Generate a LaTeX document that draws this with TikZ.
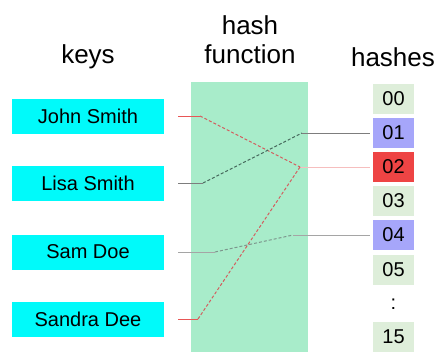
\documentclass[tikz,border=0pt]{standalone}
\usepackage{fontspec}
\setmainfont{Liberation Sans}
\usepackage{xcolor}
\usepackage{tikz}
\usetikzlibrary{arrows.meta,positioning}

\definecolor{keycyan}{RGB}{0,250,250}
\definecolor{bandgreen}{RGB}{168,236,202}
\definecolor{slotgreen}{RGB}{222,238,218}
\definecolor{slotblue}{RGB}{166,166,250}
\definecolor{slotred}{RGB}{238,68,68}
\definecolor{linered}{RGB}{232,86,86}
\definecolor{linepink}{RGB}{246,190,190}
\definecolor{linegray}{RGB}{125,125,125}
\definecolor{lightgray}{RGB}{165,165,165}
\definecolor{darkline}{RGB}{70,105,92}

\begin{document}
\begin{tikzpicture}[
    x=1pt, y=-1pt,
    title/.style={font=\fontsize{26}{29}\selectfont, align=center, inner sep=0pt},
    keybox/.style={rectangle, fill=keycyan, minimum width=152pt, minimum height=35pt, font=\fontsize{20}{24}\selectfont, inner sep=0pt},
    slot/.style={rectangle, fill=slotgreen, minimum width=41pt, minimum height=30pt, font=\fontsize{20}{24}\selectfont, inner sep=0pt},
    solidpart/.style={line width=1pt, shorten <=14pt},
    dashpart/.style={line width=1pt, densely dashed}
]
\useasboundingbox (0,0) rectangle (439,353);

% Hash function band
\fill[bandgreen] (191,82) rectangle (308,352);

% Headers
\node[title] (tkeys) at (88,57) {keys};
\node[title] (thash) at (250,40) {hash\\function};
\node[title] (thashes) at (393,57) {hashes};

% Keys
\node[keybox] (john) at (88,116) {John Smith};
\node[keybox] (lisa) at (88,183) {Lisa Smith};
\node[keybox] (sam) at (88,252) {Sam Doe};
\node[keybox] (sandra) at (88,319) {Sandra Dee};

% Hashes
\node[slot] (h00) at (393.5,99) {00};
\node[slot, fill=slotblue] (h01) at (393.5,133) {01};
\node[slot, fill=slotred] (h02) at (393.5,167) {02};
\node[slot] (h03) at (393.5,201) {03};
\node[slot, fill=slotblue] (h04) at (393.5,235) {04};
\node[slot] (h05) at (393.5,269.5) {05};
\node[font=\fontsize{20}{24}\selectfont] (hdots) at (393.5,304) {:};
\node[slot] (h15) at (393.5,337) {15};

% Bend points inside the band
\coordinate (jbend) at (200,116);
\coordinate (lbend) at (203,183);
\coordinate (sbend) at (215,252);
\coordinate (dbend) at (198,319);
\coordinate (to01) at (302,133);
\coordinate (to02) at (300,167);
\coordinate (to04) at (293,235);

% John Smith -> 02
\draw[solidpart, linered] (john.east) -- (jbend);
\draw[dashpart, linered!80!gray] (jbend) -- (to02);
\draw[line width=1pt, linepink, shorten >=3pt] (to02) -- (h02.west);

% Lisa Smith -> 01
\draw[solidpart, linegray] (lisa.east) -- (lbend);
\draw[dashpart, darkline] (lbend) -- (to01);
\draw[line width=1pt, linegray, shorten >=3pt] (to01) -- (h01.west);

% Sam Doe -> 04
\draw[solidpart, lightgray] (sam.east) -- (sbend);
\draw[dashpart, darkline!70] (sbend) -- (to04);
\draw[line width=1pt, lightgray, shorten >=3pt] (to04) -- (h04.west);

% Sandra Dee -> 02
\draw[solidpart, linered] (sandra.east) -- (dbend);
\draw[dashpart, linered!80!gray] (dbend) -- (to02);

\end{tikzpicture}
\end{document}
